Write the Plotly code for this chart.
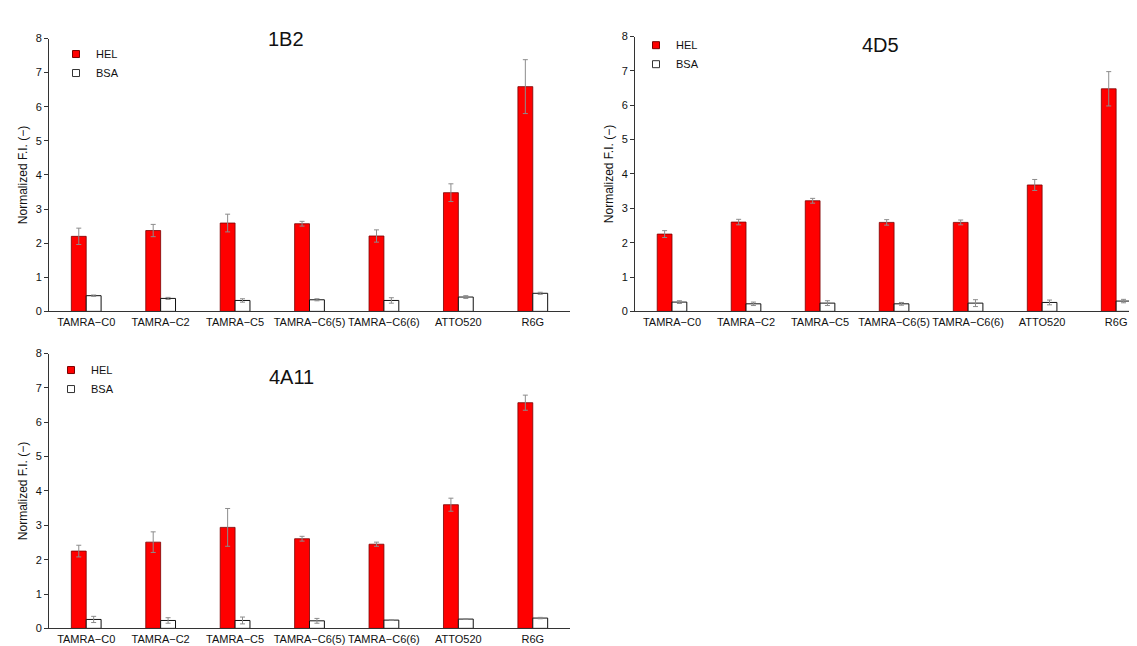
import plotly.graph_objects as go

categories = ["TAMRA−C0", "TAMRA−C2", "TAMRA−C5", "TAMRA−C6(5)", "TAMRA−C6(6)", "ATTO520", "R6G"]
y_ticks = [0, 1, 2, 3, 4, 5, 6, 7, 8]
y_title = "Normalized F.I. (−)"
series_names = ["HEL", "BSA"]
panel_titles = ["1B2", "4D5", "4A11"]

hel_1b2 = [2.20, 2.37, 2.59, 2.57, 2.21, 3.48, 6.59]
hel_1b2_err = [0.24, 0.18, 0.26, 0.07, 0.18, 0.26, 0.79]
bsa_1b2 = [0.46, 0.38, 0.32, 0.34, 0.32, 0.42, 0.53]
bsa_1b2_err = [0.02, 0.03, 0.05, 0.03, 0.08, 0.04, 0.03]

hel_4d5 = [2.25, 2.60, 3.22, 2.59, 2.59, 3.68, 6.48]
hel_4d5_err = [0.10, 0.08, 0.07, 0.08, 0.07, 0.16, 0.50]
bsa_4d5 = [0.27, 0.22, 0.24, 0.22, 0.24, 0.26, 0.30]
bsa_4d5_err = [0.04, 0.05, 0.07, 0.04, 0.10, 0.07, 0.05]

hel_4a11 = [2.25, 2.51, 2.94, 2.61, 2.45, 3.60, 6.57]
hel_4a11_err = [0.17, 0.30, 0.55, 0.07, 0.06, 0.19, 0.22]
bsa_4a11 = [0.26, 0.23, 0.23, 0.22, 0.24, 0.27, 0.30]
bsa_4a11_err = [0.09, 0.08, 0.10, 0.07, 0.01, 0.01, 0.02]

W, H = 1137, 646
FONT = "Liberation Sans, Arial, sans-serif"
RED = "#ff0000"
ERR = "#8c8c8c"

panels = [
    dict(hel=hel_1b2, hel_err=hel_1b2_err, bsa=bsa_1b2, bsa_err=bsa_1b2_err,
         xdom=[41, 562], ydom=[25, 303], xr=[-0.5, 6.5], legend="legend",
         title_xy=(278, 25), leg_xy=(48, 26)),
    dict(hel=hel_4d5, hel_err=hel_4d5_err, bsa=bsa_4d5, bsa_err=bsa_4d5_err,
         xdom=[627, 1137], ydom=[23, 303], xr=[-0.5, 6.39], legend="legend2",
         title_xy=(873, 32), leg_xy=(628, 17)),
    dict(hel=hel_4a11, hel_err=hel_4a11_err, bsa=bsa_4a11, bsa_err=bsa_4a11_err,
         xdom=[41, 562], ydom=[346, 626], xr=[-0.5, 6.5], legend="legend3",
         title_xy=(283, 370), leg_xy=(43, 348)),
]

fig = go.Figure()
layout = dict(
    width=W, height=H, margin=dict(l=0, r=0, t=0, b=0),
    paper_bgcolor="white", plot_bgcolor="white",
    barmode="group", bargap=0.6, bargroupgap=0.0,
    font=dict(family=FONT, size=11, color="#222222"),
    annotations=[],
)

for i, p in enumerate(panels):
    n = "" if i == 0 else str(i + 1)
    xa, ya = "x" + n, "y" + n
    fig.add_trace(go.Bar(
        x=categories, y=p["hel"], name=series_names[0], xaxis=xa, yaxis=ya,
        marker=dict(color=RED, line=dict(color="#7a0000", width=0.8)),
        error_y=dict(type="data", array=p["hel_err"], visible=True,
                     color=ERR, thickness=1, width=2.5),
        showlegend=False, offsetgroup="HEL"))
    fig.add_trace(go.Bar(
        x=categories, y=p["bsa"], name=series_names[1], xaxis=xa, yaxis=ya,
        marker=dict(color="white", line=dict(color="#111111", width=1)),
        error_y=dict(type="data", array=p["bsa_err"], visible=True,
                     color=ERR, thickness=1, width=2.5),
        showlegend=False, offsetgroup="BSA"))
    # legend-only entries with small square icons
    fig.add_trace(go.Scatter(
        x=[None], y=[None], mode="markers", name=series_names[0], xaxis=xa, yaxis=ya,
        marker=dict(symbol="square", size=7, color=RED, line=dict(color="#7a0000", width=1)),
        legend=p["legend"], showlegend=True))
    fig.add_trace(go.Scatter(
        x=[None], y=[None], mode="markers", name=series_names[1], xaxis=xa, yaxis=ya,
        marker=dict(symbol="square", size=7, color="white", line=dict(color="#333333", width=1)),
        legend=p["legend"], showlegend=True))

    x0, x1 = p["xdom"]
    y0, y1 = p["ydom"]
    layout["xaxis" + n] = dict(
        domain=[x0 / W, min(x1 / W, 1.0)], anchor=ya, range=p["xr"],
        type="category", showline=True, linecolor="#333333", linewidth=1,
        ticks="", showgrid=False, zeroline=False,
        tickfont=dict(family=FONT, size=11, color="#111111"))
    layout["yaxis" + n] = dict(
        domain=[1 - y1 / H, 1 - y0 / H], anchor=xa, range=[0, 8],
        tickvals=y_ticks, showline=True, linecolor="#333333", linewidth=1,
        ticks="outside", ticklen=4, tickcolor="#333333", showgrid=False, zeroline=False,
        tickfont=dict(family=FONT, size=11, color="#111111"),
        title=dict(text=y_title, font=dict(family=FONT, size=12, color="#111111"), standoff=5))
    lx, ly = p["leg_xy"]
    layout[p["legend"]] = dict(
        x=lx / W, y=1 - ly / H, xanchor="left", yanchor="top",
        bgcolor="rgba(0,0,0,0)", font=dict(family=FONT, size=11, color="#111111"),
        itemwidth=30, tracegroupgap=0)
    tx, ty = p["title_xy"]
    layout["annotations"].append(dict(
        text=panel_titles[i], x=tx / W, y=1 - ty / H, xref="paper", yref="paper",
        xanchor="center", yanchor="middle", showarrow=False,
        font=dict(family=FONT, size=20, color="#111111")))

fig.update_layout(**layout)
fig.write_html("out.html")
